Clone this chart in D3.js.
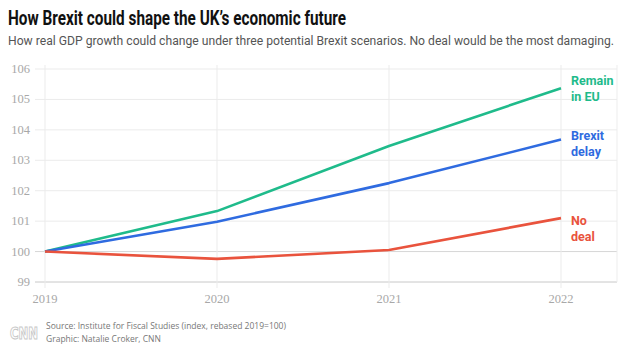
<!DOCTYPE html>
<html>
<head>
<meta charset="utf-8">
<script src="https://cdn.jsdelivr.net/npm/d3@7"></script>
<style>
  html, body { margin: 0; padding: 0; background: #fff; }
  svg { display: block; }
</style>
</head>
<body>
<svg id="chart" width="624" height="348"></svg>
<script>
// Years on the x axis and GDP index (2019 = 100) for each scenario
const years = [2019, 2020, 2021, 2022];
const remainValues = [100, 101.33, 103.47, 105.37];
const delayValues = [100, 100.98, 102.25, 103.68];
const noDealValues = [100, 99.76, 100.05, 101.1];
const seriesNames = [["Remain", "in EU"], ["Brexit", "delay"], ["No", "deal"]];
const yTicks = [99, 100, 101, 102, 103, 104, 105, 106];

const colors = ["#1fbb8b", "#2f6be0", "#e9533d"];
const series = [remainValues, delayValues, noDealValues].map((values, i) => ({
  name: seriesNames[i],
  color: colors[i],
  points: years.map((yr, j) => ({ year: yr, value: values[j] }))
}));

const svg = d3.select("#chart");

const x = d3.scaleLinear().domain([2019, 2022]).range([45, 561]);
const y = d3.scaleLinear().domain([99, 106]).range([282, 69]);
const gridLeft = 35, gridRight = 617;

// Title and subtitle
svg.append("text")
  .attr("x", 8).attr("y", 25)
  .attr("font-family", "Roboto, 'Noto Sans', sans-serif")
  .attr("font-weight", 700).attr("font-size", 20)
  .attr("fill", "#111")
  .attr("textLength", 338).attr("lengthAdjust", "spacingAndGlyphs")
  .text("How Brexit could shape the UK’s economic future");

svg.append("text")
  .attr("x", 8).attr("y", 45)
  .attr("font-family", "Roboto, 'Noto Sans', sans-serif")
  .attr("font-size", 12.3)
  .attr("fill", "#555")
  .attr("textLength", 606).attr("lengthAdjust", "spacingAndGlyphs")
  .text("How real GDP growth could change under three potential Brexit scenarios. No deal would be the most damaging.");

// Horizontal gridlines and y tick labels
const yAxis = svg.append("g").attr("class", "y-axis");
yAxis.selectAll("line").data(yTicks).join("line")
  .attr("x1", gridLeft).attr("x2", gridRight)
  .attr("y1", d => y(d)).attr("y2", d => y(d))
  .attr("stroke", d => (d === 99 ? "#c8c8c8" : d === 100 ? "#d6d6d6" : "#ebebeb"))
  .attr("stroke-width", 1);
yAxis.selectAll("text").data(yTicks).join("text")
  .attr("x", 30).attr("y", d => y(d) + 4)
  .attr("text-anchor", "end")
  .attr("font-family", "'Liberation Serif', 'DejaVu Serif', serif")
  .attr("font-size", 12.5)
  .attr("fill", "#a8a8a8")
  .text(d => d);

// Vertical gridlines and year labels
const xAxis = svg.append("g").attr("class", "x-axis");
xAxis.selectAll("line").data(years).join("line")
  .attr("x1", d => x(d)).attr("x2", d => x(d))
  .attr("y1", 65).attr("y2", 288)
  .attr("stroke", "#ebebeb").attr("stroke-width", 1);
svg.append("line")
  .attr("x1", gridRight).attr("x2", gridRight)
  .attr("y1", 65).attr("y2", 282)
  .attr("stroke", "#ededed").attr("stroke-width", 1);
xAxis.selectAll("text").data(years).join("text")
  .attr("x", d => x(d)).attr("y", 303)
  .attr("text-anchor", "middle")
  .attr("font-family", "'Liberation Serif', 'DejaVu Serif', serif")
  .attr("font-size", 12.5)
  .attr("fill", "#a8a8a8")
  .text(d => d);

// Scenario lines
const line = d3.line().x(d => x(d.year)).y(d => y(d.value));
svg.append("g").selectAll("path").data(series).join("path")
  .attr("d", d => line(d.points))
  .attr("fill", "none")
  .attr("stroke", d => d.color)
  .attr("stroke-width", 2.6)
  .attr("stroke-linejoin", "round");

// End labels
const labelOffsets = [-3, 0, 7];
series.forEach((s, i) => {
  const last = s.points[s.points.length - 1];
  const t = svg.append("text")
    .attr("x", 571)
    .attr("y", y(last.value) + labelOffsets[i])
    .attr("font-family", "Roboto, 'Noto Sans', sans-serif")
    .attr("font-weight", 700).attr("font-size", 12.5)
    .attr("fill", s.color);
  t.append("tspan").attr("x", 571).attr("dy", 0).text(s.name[0]);
  t.append("tspan").attr("x", 571).attr("dy", 16).text(s.name[1]);
});

// Footer: logo and credits
svg.append("text")
  .attr("x", 10).attr("y", 339)
  .attr("font-family", "'DejaVu Sans', sans-serif")
  .attr("font-weight", 700).attr("font-size", 15)
  .attr("fill", "none").attr("stroke", "#c8c8c8").attr("stroke-width", 1)
  .attr("textLength", 28).attr("lengthAdjust", "spacingAndGlyphs")
  .text("CNN");

svg.append("text")
  .attr("x", 46).attr("y", 329)
  .attr("font-family", "'Open Sans', sans-serif")
  .attr("font-size", 8.5).attr("fill", "#777")
  .text("Source: Institute for Fiscal Studies (index, rebased 2019=100)");
svg.append("text")
  .attr("x", 46).attr("y", 342)
  .attr("font-family", "'Open Sans', sans-serif")
  .attr("font-size", 8.5).attr("fill", "#777")
  .text("Graphic: Natalie Croker, CNN");
</script>
</body>
</html>
